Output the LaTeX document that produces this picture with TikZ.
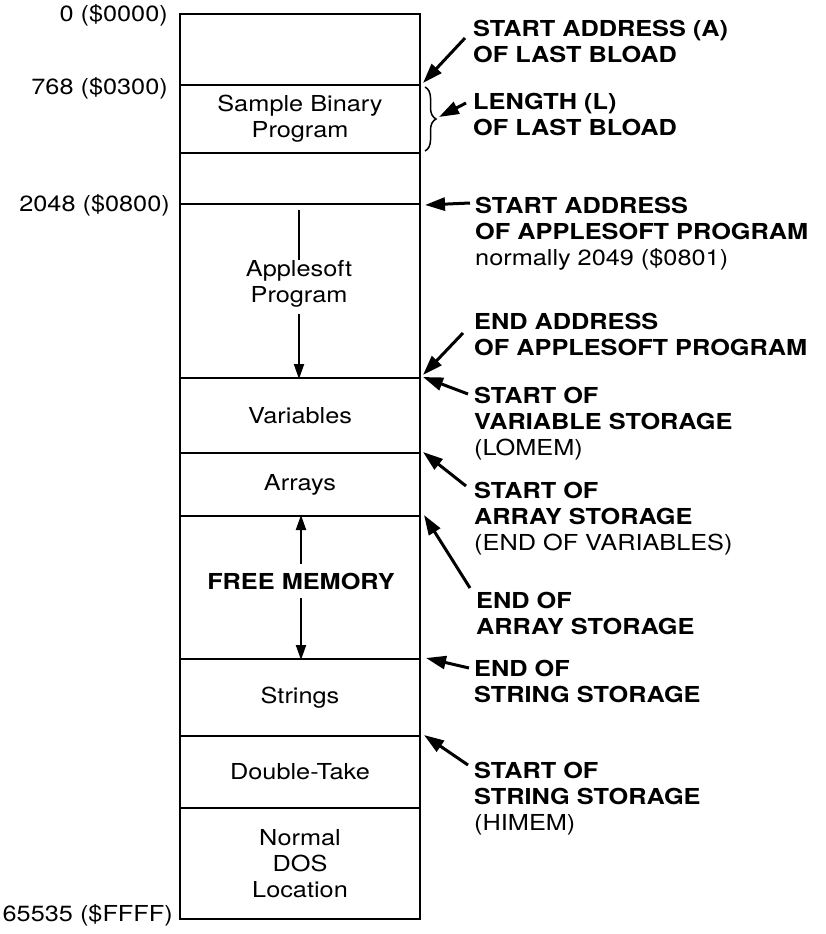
\documentclass[tikz,border=0pt]{standalone}
\usepackage{fontspec}
\setmainfont{TeX Gyre Heros}[FakeStretch=1.15]
\usetikzlibrary{arrows.meta,decorations.pathreplacing}
\begin{document}
\begin{tikzpicture}[x=1pt,y=-1pt,
  every node/.style={inner sep=0pt, font=\fontsize{22}{26}\selectfont},
  region/.style={draw, line width=2pt, minimum width=240pt, anchor=north, align=center},
  addr/.style={anchor=base east},
  lab/.style={anchor=north west, align=left, font=\fontsize{22}{26}\selectfont\bfseries},
  arr/.style={line width=3pt, -{Triangle[length=20pt,width=13pt]}},
  thin arr/.style={line width=2pt, -{Triangle[length=15pt,width=10pt]}}]
\useasboundingbox (0,0) rectangle (826,934);

% memory regions
\node[region, minimum height=71pt]  (r0)    at (300,13)  {};
\node[region, minimum height=68pt]  (rbin)  at (300,84)  {Sample Binary\\Program};
\node[region, minimum height=51pt]  (rgap)  at (300,152) {};
\node[region, minimum height=174pt] (rapp)  at (300,203) {};
\node[region, minimum height=75pt]  (rvar)  at (300,377) {Variables};
\node[region, minimum height=63pt]  (rarr)  at (300,452) {Arrays};
\node[region, minimum height=143pt] (rfree) at (300,515) {};
\node[region, minimum height=77pt]  (rstr)  at (300,658) {Strings};
\node[region, minimum height=72pt]  (rdt)   at (300,735) {Double-Take};
\node[region, minimum height=111pt] (rdos)  at (300,807) {Normal\\DOS\\Location};

% inner texts with arrows
\node[anchor=north, align=center] (app) at (299,260) {Applesoft\\Program};
\draw[line width=2pt] (app.north) -- ([yshift=-7pt]rapp.north -| app.north);
\draw[thin arr, shorten <=7pt] (app.south) -- (rapp.south -| app.south);
\node[font=\fontsize{22}{26}\selectfont\bfseries] (free) at (301,581) {FREE MEMORY};
\draw[thin arr, shorten <=9pt] (free.north) -- (rfree.north -| free.north);
\draw[thin arr, shorten <=9pt] (free.south) -- (rfree.south -| free.south);

% address labels
\node[addr] (a0)    at (168,22)  {0 (\$0000)};
\node[addr] (a768)  at (168,95)  {768 (\$0300)};
\node[addr] (a2048) at (170,211) {2048 (\$0800)};
\node[addr] (aend)  at (173,921) {65535 (\$FFFF)};

% brace
\draw[line width=1.5pt, decorate, decoration={brace, amplitude=11pt}] (425,87) -- (425,151);
\coordinate (bmid) at (439,117);

% right labels
\node[lab] (l1) at (473,20)  {START ADDRESS (A)\\OF LAST BLOAD};
\node[lab] (l2) at (473,93)  {LENGTH (L)\\OF LAST BLOAD};
\node[lab] (l3) at (475,197) {START ADDRESS\\OF APPLESOFT PROGRAM\\{\mdseries normally 2049 (\$0801)}};
\node[lab] (l4) at (474,313) {END ADDRESS\\OF APPLESOFT PROGRAM};
\node[lab] (l5) at (474,387) {START OF\\VARIABLE STORAGE\\{\mdseries (LOMEM)}};
\node[lab] (l6) at (474,482) {START OF\\ARRAY STORAGE\\{\mdseries (END OF VARIABLES)}};
\node[lab] (l7) at (476,592) {END OF\\ARRAY STORAGE};
\node[lab] (l8) at (474,660) {END OF\\STRING STORAGE};
\node[lab] (l9) at (474,762) {START OF\\STRING STORAGE\\{\mdseries (HIMEM)}};

% arrow tails
\coordinate (t1) at (465,38);
\coordinate (t2) at (466,103);
\coordinate (t3) at (470,203);
\coordinate (t4) at (463,333);
\coordinate (t5) at (468,394);
\coordinate (t6) at (466,486);
\coordinate (t7) at (470,588);
\coordinate (t8) at (469,668);
\coordinate (t9) at (468,765);

\draw[arr] (t1) -- ([shift={(2pt,3pt)}]r0.south east);
\draw[arr] (t2) -- (bmid);
\draw[arr] (t3) -- ([xshift=4pt]rgap.south east);
\draw[arr] (t4) -- ([shift={(2pt,4pt)}]rapp.south east);
\draw[arr] (t5) -- ([xshift=2pt]rvar.north east);
\draw[arr] (t6) -- ([xshift=2pt]rarr.north east);
\draw[arr] (t7) -- ([xshift=3pt]rfree.north east);
\draw[arr] (t8) -- ([xshift=5pt]rstr.north east);
\draw[arr] (t9) -- ([xshift=3pt]rdt.north east);
\end{tikzpicture}
\end{document}
